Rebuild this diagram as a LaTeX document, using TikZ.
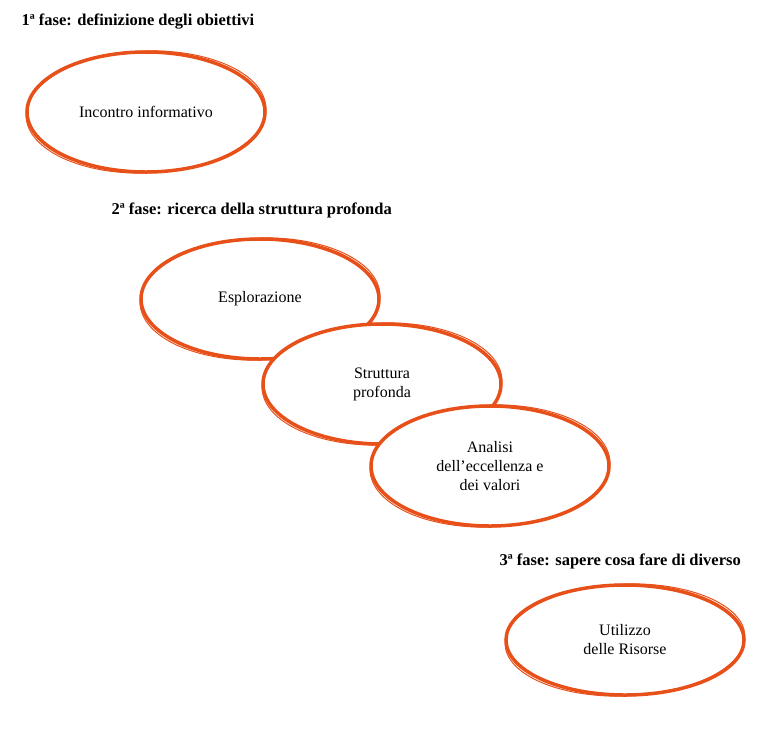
\documentclass[tikz,border=0pt]{standalone}
\usepackage{fontspec}
\setmainfont{Liberation Serif}
\usetikzlibrary{shapes.geometric}
\begin{document}
\begin{tikzpicture}[x=1pt,y=-1pt,
  brush/.style={ellipse, draw=brushc, line width=3.5pt, fill=white, minimum width=238pt, minimum height=120pt, align=center, font=\fontsize{16}{19}\selectfont, inner sep=0pt},
  phase/.style={anchor=west, font=\bfseries\fontsize{16.5}{19}\selectfont},
  thin/.style={draw=brushc, line width=1pt}]
\definecolor{brushc}{HTML}{E8501A}
\useasboundingbox (0,0) rectangle (766,729);
\node[phase] (p1) at (18,22) {1ª fase: definizione degli obiettivi};
\node[phase] (p2) at (108,210) {2ª fase: ricerca della struttura profonda};
\node[phase] (p3) at (496,561) {3ª fase: sapere cosa fare di diverso};
\node[brush] (e1) at (146,112) {Incontro informativo};
\draw[thin, rotate around={2:(e1.center)}] (e1.center) ellipse (120pt and 61pt);
\node[brush] (e2) at (260,299) {Esplorazione};
\draw[thin, rotate around={2:(e2.center)}] (e2.center) ellipse (120pt and 61pt);
\node[brush] (e3) at (382,384) {Struttura\\profonda};
\draw[thin, rotate around={2:(e3.center)}] (e3.center) ellipse (120pt and 61pt);
\node[brush] (e4) at (490,466) {Analisi\\dell’eccellenza e\\dei valori};
\draw[thin, rotate around={2:(e4.center)}] (e4.center) ellipse (120pt and 61pt);
\node[brush, minimum height=110pt] (e5) at (625,640) {Utilizzo\\delle Risorse};
\draw[thin, rotate around={2:(e5.center)}] (e5.center) ellipse (120pt and 56pt);
\end{tikzpicture}
\end{document}
